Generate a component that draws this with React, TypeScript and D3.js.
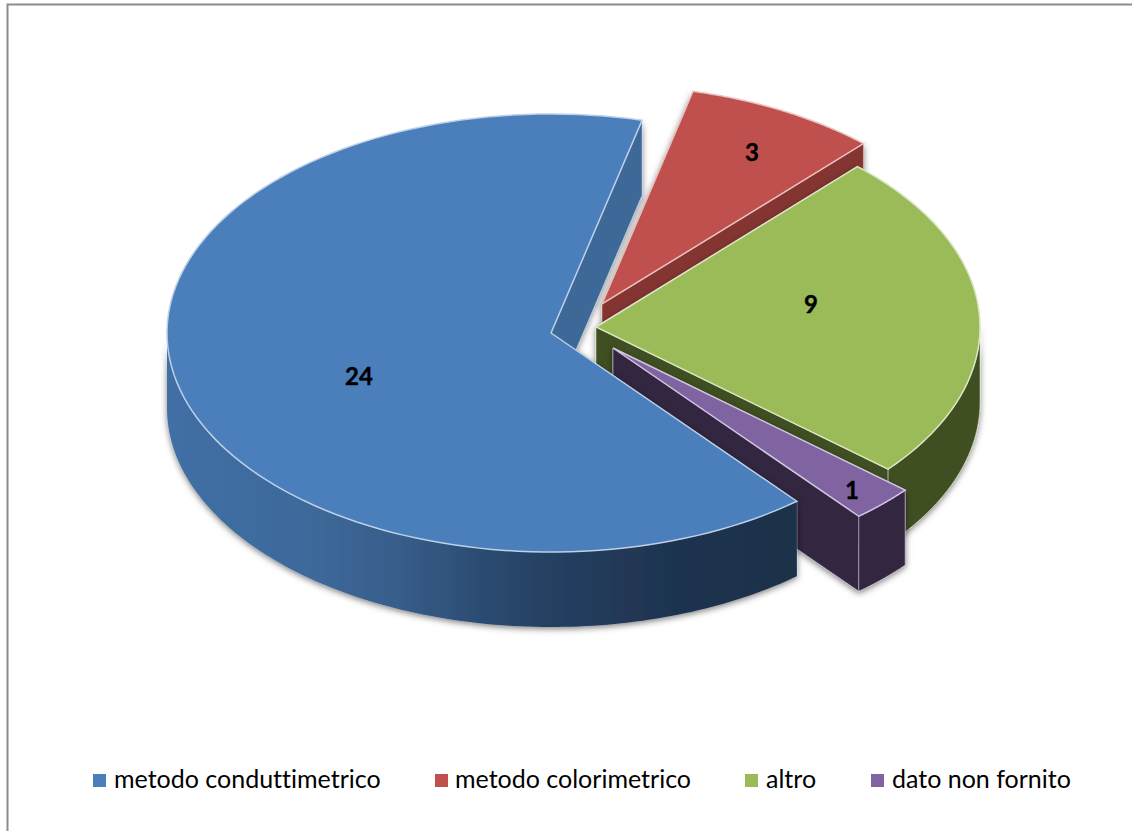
import React from "react";
import * as d3 from "d3";

const categories = ["metodo conduttimetrico", "metodo colorimetrico", "altro", "dato non fornito"];
const values = [24, 3, 9, 1];
const topColors = ["#4b7fbc", "#c0504d", "#9bbb59", "#8064a2"];
const edgeColors = ["#bcd0e8", "#eac4c2", "#dbe6c4", "#d2c6de"];
const wallColors = ["#3c6798", "#843432", "#404f20", "#33263f"];
const apexX = [551, 602, 596, 613];
const apexY = [333, 304, 327, 348];
const labelX = [359, 752, 811, 852];
const labelY = [375, 151, 303, 489];
const legendSwatchX = [93, 435, 745, 871];
const legendTextX = [114, 455, 766, 892];

const RX = 384;
const RY = 219;
const DEPTH = 75;

const slices = d3
  .pie<number>()
  .sort(null)
  .startAngle((140.2 * Math.PI) / 180)
  .endAngle((140.2 * Math.PI) / 180 + 2 * Math.PI)(values);

const line = d3.line<[number, number]>();
const project = (i: number, a: number, dy = 0): [number, number] => [
  apexX[i] + RX * Math.sin(a),
  apexY[i] - RY * Math.cos(a) + dy,
];
const arcPoints = (i: number, a0: number, a1: number, dy = 0): [number, number][] =>
  d3.range(0, 121).map((k) => project(i, a0 + ((a1 - a0) * k) / 120, dy));

const topPath = (i: number) => {
  const s = slices[i];
  return (
    line([[apexX[i], apexY[i]], ...arcPoints(i, s.startAngle, s.endAngle)]) + "Z"
  );
};

const radial = (i: number, a: number) => {
  const p = project(i, a);
  const q = project(i, a, DEPTH);
  return line([[apexX[i], apexY[i]], p, q, [apexX[i], apexY[i] + DEPTH]]) + "Z";
};

const outerWall = (i: number) => {
  const s = slices[i];
  // the rim is only seen on the near half of the ellipse
  const lo = Math.max(s.startAngle, Math.PI / 2);
  const hi = Math.min(s.endAngle, (3 * Math.PI) / 2);
  const lo2 = Math.max(s.startAngle, Math.PI / 2 + 2 * Math.PI);
  const hi2 = Math.min(s.endAngle, (3 * Math.PI) / 2 + 2 * Math.PI);
  const [a0, a1] = hi > lo ? [lo, hi] : [lo2, hi2];
  if (!(a1 > a0)) return null;
  return (
    line([...arcPoints(i, a0, a1), ...arcPoints(i, a1, a0, DEPTH)]) + "Z"
  );
};

export default function App() {
  const order = [1, 2, 3, 0];
  return (
    <svg
      width={1132}
      height={831}
      style={{ position: "absolute", left: 0, top: 0, background: "#fff", fontVariantLigatures: "none" }}
      fontFamily="Lato, 'Open Sans', sans-serif"
    >
      <defs>
        <linearGradient id="blueRim" gradientUnits="userSpaceOnUse" x1={166} x2={797} y1={0} y2={0}>
          <stop offset="0" stopColor="#3f6fa5" />
          <stop offset="0.21" stopColor="#3e6a9c" />
          <stop offset="0.37" stopColor="#375d8a" />
          <stop offset="0.48" stopColor="#2d4e75" />
          <stop offset="0.62" stopColor="#243f5f" />
          <stop offset="0.81" stopColor="#1e3350" />
          <stop offset="1" stopColor="#1f3049" />
        </linearGradient>
        <filter id="shade" x="-5%" y="-5%" width="110%" height="110%">
          <feDropShadow dx="0" dy="2" stdDeviation="3" floodColor="#000" floodOpacity="0.5" />
        </filter>
      </defs>
      <path d="M7.5 1000V4.5H1200" fill="none" stroke="#8c8c8c" strokeWidth={2} />
      {order.map((i) => {
        const s = slices[i];
        const rim = outerWall(i);
        return (
          <g key={categories[i]}>
            <g filter="url(#shade)">
              <path d={radial(i, s.startAngle)} fill={wallColors[i]} stroke={edgeColors[i]} strokeOpacity={0.55} />
              <path d={radial(i, s.endAngle)} fill={wallColors[i]} stroke={edgeColors[i]} strokeOpacity={0.55} />
              {rim && (
                <path
                  d={rim}
                  fill={i === 0 ? "url(#blueRim)" : wallColors[i]}
                  stroke={i === 0 ? "none" : edgeColors[i]}
                  strokeOpacity={0.55}
                />
              )}
            </g>
            <path d={topPath(i)} fill={topColors[i]} stroke={edgeColors[i]} strokeWidth={1.5} />
          </g>
        );
      })}
      {values.map((v, i) => (
        <text
          key={categories[i]}
          x={labelX[i]}
          y={labelY[i]}
          textAnchor="middle"
          dominantBaseline="central"
          fontSize={24}
          fontWeight={700}
          stroke="#000"
          strokeWidth={0.4}
          fill="#000"
        >
          {v}
        </text>
      ))}
      {categories.map((c, i) => (
        <g key={c}>
          <rect x={legendSwatchX[i]} y={774} width={13} height={13} fill={topColors[i]} />
          <text x={legendTextX[i]} y={788} fontSize={25} fill="#000">
            {c}
          </text>
        </g>
      ))}
    </svg>
  );
}
